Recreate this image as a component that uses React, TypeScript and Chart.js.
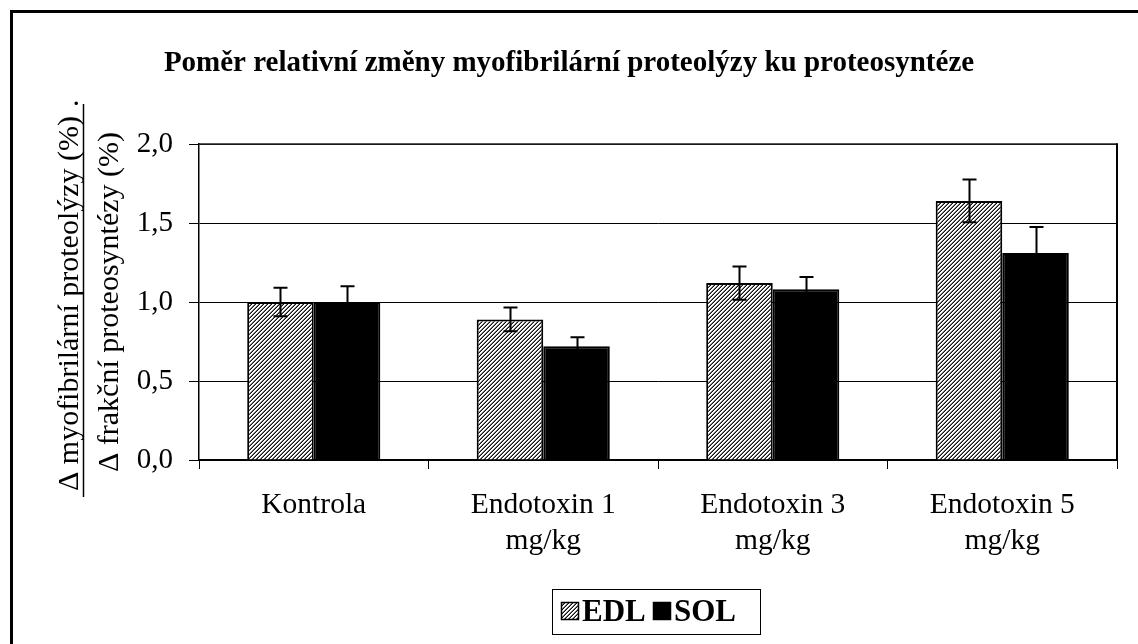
import React, { useEffect, useRef } from "react";
import { Chart, registerables } from "chart.js";

Chart.register(...registerables);

const categories: string[][] = [
  ["Kontrola"],
  ["Endotoxin 1", "mg/kg"],
  ["Endotoxin 3", "mg/kg"],
  ["Endotoxin 5", "mg/kg"],
];
const seriesNames = ["EDL", "SOL"];
const edlValues = [1.0, 0.89, 1.12, 1.64];
const edlErrors = [0.09, 0.075, 0.105, 0.135];
const solValues = [1.0, 0.72, 1.08, 1.31];
const solErrors = [0.1, 0.057, 0.078, 0.165];
const yTickValues = [0, 0.5, 1.0, 1.5, 2.0];

const titleText = "Poměr relativní změny myofibrilární proteolýzy ku proteosyntéze";
const yLabelTop = "Δ myofibrilární proteolýzy (%)";
const yLabelBottom = "Δ frakční proteosyntézy (%)";

const SERIF = "'Liberation Serif', 'Times New Roman', serif";

function makePattern(ctx: CanvasRenderingContext2D): CanvasPattern | string {
  const c = document.createElement("canvas");
  c.width = 4;
  c.height = 4;
  const p = c.getContext("2d")!;
  p.fillStyle = "#ffffff";
  p.fillRect(0, 0, 4, 4);
  for (let x = 0; x < 4; x++) {
    for (let y = 0; y < 4; y++) {
      const k = (x + y) % 4;
      if (k === 3) {
        p.fillStyle = "#111111";
        p.fillRect(x, y, 1, 1);
      } else if (k === 2) {
        p.fillStyle = "#7a7a7a";
        p.fillRect(x, y, 1, 1);
      }
    }
  }
  return ctx.createPattern(c, "repeat") || "#888";
}

export default function App() {
  const ref = useRef<HTMLCanvasElement | null>(null);

  useEffect(() => {
    document.body.style.margin = "0";
    const canvas = ref.current!;
    const ctx = canvas.getContext("2d")!;
    const pattern = makePattern(ctx);
    const errors = [edlErrors, solErrors];

    const decorPlugin = {
      id: "decor",
      beforeDraw(chart: any) {
        const c = chart.ctx;
        c.save();
        c.fillStyle = "#ffffff";
        c.fillRect(0, 0, chart.width, chart.height);
        c.restore();
      },
      afterDatasetsDraw(chart: any) {
        const c = chart.ctx;
        const y = chart.scales.y;
        c.save();
        c.strokeStyle = "#000";
        c.lineWidth = 2;
        chart.data.datasets.forEach((ds: any, i: number) => {
          const meta = chart.getDatasetMeta(i);
          meta.data.forEach((bar: any, j: number) => {
            const v = ds.data[j];
            const e = errors[i][j];
            const x = Math.round(bar.x) + 0.5;
            const yt = y.getPixelForValue(v + e);
            const yb = y.getPixelForValue(v - e);
            c.beginPath();
            c.moveTo(x, yt);
            c.lineTo(x, yb);
            c.moveTo(x - 7, yt);
            c.lineTo(x + 7, yt);
            c.moveTo(x - 7, yb);
            c.lineTo(x + 7, yb);
            c.stroke();
          });
        });
        c.restore();
      },
      afterDraw(chart: any) {
        const c = chart.ctx;
        const a = chart.chartArea;
        c.save();
        // plot area top and right border
        c.strokeStyle = "#222";
        c.lineWidth = 1.5;
        c.beginPath();
        c.moveTo(a.left, a.top);
        c.lineTo(a.right, a.top);
        c.stroke();
        c.strokeStyle = "#000";
        c.lineWidth = 2;
        c.beginPath();
        c.moveTo(a.right, a.top - 0.75);
        c.lineTo(a.right, a.bottom);
        c.stroke();

        // outer frame (left and top visible)
        c.fillStyle = "#000";
        c.fillRect(10, 10, 3, chart.height - 10);
        c.fillRect(10, 10, chart.width - 10, 3);

        // title
        c.fillStyle = "#000";
        c.font = `bold 29px ${SERIF}`;
        c.textAlign = "center";
        c.textBaseline = "alphabetic";
        c.fillText(titleText, 569, 71);

        // y axis title (rotated, fraction style)
        c.font = `30px ${SERIF}`;
        c.save();
        c.translate(78, 0);
        c.rotate(-Math.PI / 2);
        // rotated frame: x = -screenY
        const startTop = -491;
        const wTop = c.measureText(yLabelTop).width;
        c.textAlign = "left";
        c.fillText(yLabelTop, startTop, 0);
        c.fillText(".", -107, 0);
        c.lineWidth = 1.5;
        c.beginPath();
        c.moveTo(startTop - 6, 5.5);
        c.lineTo(-104, 5.5);
        c.stroke();
        c.restore();
        void wTop;

        c.save();
        c.translate(118, 302);
        c.rotate(-Math.PI / 2);
        c.textAlign = "center";
        c.fillText(yLabelBottom, 0, 0);
        c.restore();

        // legend
        const lx = 552, ly = 589, lw = 208, lh = 45;
        c.lineWidth = 1;
        c.strokeStyle = "#000";
        c.fillStyle = "#fff";
        c.fillRect(lx, ly, lw, lh);
        c.strokeRect(lx + 0.5, ly + 0.5, lw, lh);
        c.font = `bold 31px ${SERIF}`;
        c.textAlign = "left";
        c.textBaseline = "alphabetic";
        const swatchX = [561, 653];
        const sw = 18;
        chart.data.datasets.forEach((ds: any, i: number) => {
          const x = swatchX[i];
          c.fillStyle = ds.backgroundColor;
          c.fillRect(x, ly + 13, sw, sw);
          c.lineWidth = 1.5;
          c.strokeStyle = "#000";
          c.strokeRect(x + 0.5, ly + 13.5, sw - 1, sw - 1);
          c.fillStyle = "#000";
          c.fillText(ds.label, x + sw + 3, ly + 32);
        });
        c.restore();
      },
    };

    const chart = new Chart(ctx, {
      type: "bar",
      data: {
        labels: categories as any,
        datasets: [
          {
            label: seriesNames[0],
            data: edlValues,
            backgroundColor: pattern as any,
            borderColor: "#000",
            borderWidth: 2,
          },
          {
            label: seriesNames[1],
            data: solValues,
            backgroundColor: "#000",
            borderColor: "#000",
            borderWidth: 2,
          },
        ],
      },
      options: {
        animation: false,
        responsive: false,
        devicePixelRatio: 1,
        layout: { padding: { top: 144, right: 21, left: 0, bottom: 0 } },
        datasets: { bar: { barPercentage: 1, categoryPercentage: 0.58 } },
        plugins: {
          legend: { display: false },
          title: { display: false },
          tooltip: { enabled: false },
        },
        scales: {
          x: {
            offset: true,
            grid: {
              offset: true,
              drawOnChartArea: false,
              drawTicks: true,
              tickLength: 9,
              color: "#000",
              lineWidth: 1,
            },
            border: { display: true, color: "#000", width: 2 },
            ticks: {
              color: "#000",
              padding: 19,
              maxRotation: 0,
              autoSkip: false,
              font: { family: SERIF, size: 29.5 },
            },
            afterFit: (s: any) => {
              s.height = 184;
            },
          },
          y: {
            min: 0,
            max: 2,
            afterBuildTicks: (s: any) => {
              s.ticks = yTickValues.map((v) => ({ value: v }));
            },
            ticks: {
              color: "#000",
              padding: 16,
              font: { family: SERIF, size: 29 },
              callback: (v: any) => Number(v).toFixed(1).replace(".", ","),
            },
            grid: {
              color: "#000",
              lineWidth: 1,
              drawTicks: true,
              tickLength: 10,
              tickColor: "#000",
            },
            border: { display: true, color: "#000", width: 1.5 },
            afterFit: (s: any) => {
              s.width = 199;
            },
          },
        },
      },
      plugins: [decorPlugin],
    });

    return () => chart.destroy();
  }, []);

  return (
    <div style={{ position: "absolute", left: 0, top: 0, width: 1138, height: 644 }}>
      <canvas ref={ref} width={1138} height={644} />
    </div>
  );
}
